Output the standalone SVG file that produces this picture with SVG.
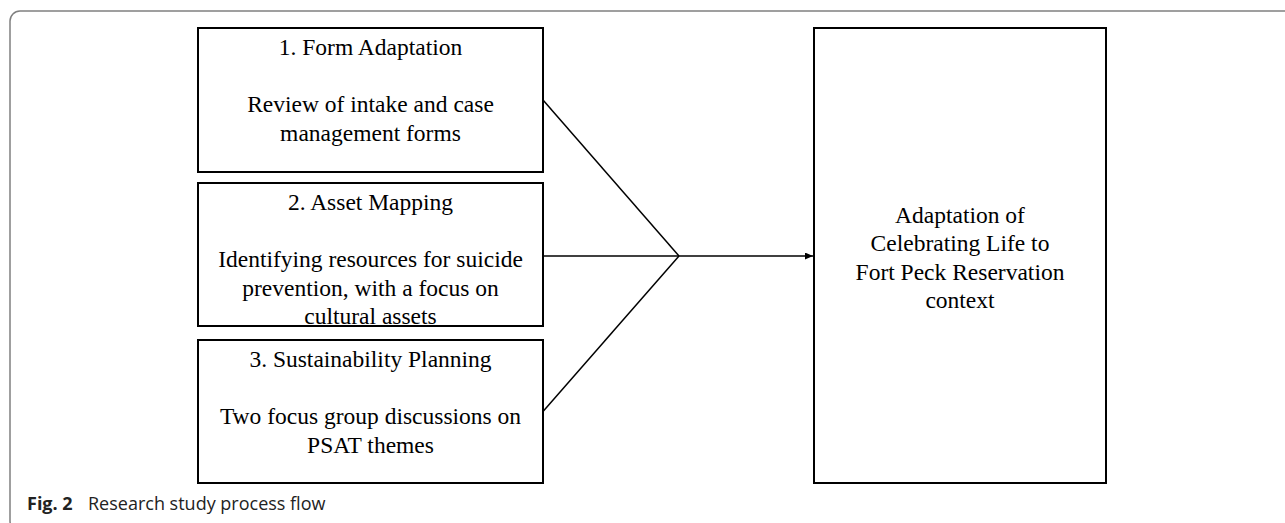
<svg xmlns="http://www.w3.org/2000/svg" width="1285" height="523" viewBox="0 0 1285 523">
<style>
.box{fill:#ffffff;stroke:#000000;stroke-width:2}
.t{font-family:"Liberation Serif","Times New Roman",serif;font-size:23.5px;fill:#000000;text-anchor:middle}
.con{stroke:#000000;stroke-width:1.5;fill:none}
.cap{font-family:"Open Sans","Noto Sans",sans-serif;font-size:18px;fill:#222222}
</style>
<defs>
<marker id="arr" markerUnits="userSpaceOnUse" markerWidth="8" markerHeight="7" refX="8" refY="3.5" orient="auto">
<path d="M0,0 L8,3.5 L0,7 z" fill="#000000"/>
</marker>
</defs>
<rect x="0" y="0" width="1285" height="523" fill="#ffffff"/>
<rect id="frame" x="10" y="11" width="1300" height="520" rx="10" ry="10" fill="none" stroke="#808080" stroke-width="1.5"/>
<g id="connectors">
<line class="con" x1="543" y1="100" x2="679" y2="256"/>
<line class="con" x1="543" y1="411.5" x2="679" y2="256"/>
<line class="con" x1="543" y1="256" x2="813" y2="256" marker-end="url(#arr)"/>
</g>
<g id="node-form-adaptation">
<rect class="box" x="198" y="28" width="345" height="144"/>
<text class="t" x="370.5" y="55">1. Form Adaptation</text>
<text class="t" x="370.5" y="112">Review of intake and case</text>
<text class="t" x="370.5" y="140.5">management forms</text>
</g>
<g id="node-asset-mapping">
<rect class="box" x="198" y="183" width="345" height="143"/>
<text class="t" x="370.5" y="210">2. Asset Mapping</text>
<text class="t" x="370.5" y="267">Identifying resources for suicide</text>
<text class="t" x="370.5" y="295.5">prevention, with a focus on</text>
<text class="t" x="370.5" y="324">cultural assets</text>
</g>
<g id="node-sustainability">
<rect class="box" x="198" y="340" width="345" height="143"/>
<text class="t" x="370.5" y="367">3. Sustainability Planning</text>
<text class="t" x="370.5" y="424">Two focus group discussions on</text>
<text class="t" x="370.5" y="452.5">PSAT themes</text>
</g>
<g id="node-adaptation">
<rect class="box" x="814" y="28" width="292" height="455"/>
<text class="t" x="960" y="222.5">Adaptation of</text>
<text class="t" x="960" y="251">Celebrating Life to</text>
<text class="t" x="960" y="279.5">Fort Peck Reservation</text>
<text class="t" x="960" y="308">context</text>
</g>
<g id="caption">
<text class="cap" x="27" y="510" font-weight="bold">Fig. 2</text>
<text class="cap" x="88" y="510">Research study process flow</text>
</g>
</svg>
